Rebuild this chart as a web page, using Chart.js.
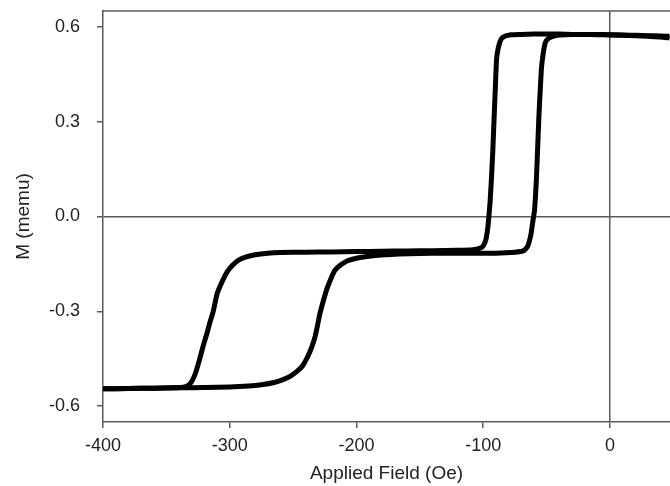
<!DOCTYPE html>
<html>
<head>
<meta charset="utf-8">
<script src="https://cdn.jsdelivr.net/npm/chart.js@4"></script>
<style>
  html, body { margin: 0; padding: 0; background: #fff; }
  #wrap { width: 670px; height: 486px; }
</style>
</head>
<body>
<div id="wrap"><canvas id="chart" width="670" height="486"></canvas></div>
<script>
'use strict';

// descending branch (coming down from positive saturation)
const downField = [47, 40, 30, 20, 10, 0, -10, -20, -30, -40, -50, -60, -70, -78, -83, -86, -88, -89.4, -90.5, -91.5, -92.5, -93.5, -94.5, -95.5, -96.5, -98, -100, -103, -108, -120, -140, -160, -180, -200, -220, -240, -260, -270, -280, -287, -293, -298, -302, -307, -310, -313, -316, -318, -321, -324, -327, -330, -333, -337, -345, -360, -380, -400];
const downM = [0.565, 0.568, 0.570, 0.572, 0.573, 0.574, 0.575, 0.576, 0.576, 0.577, 0.577, 0.577, 0.576, 0.575, 0.570, 0.560, 0.535, 0.50, 0.40, 0.30, 0.20, 0.12, 0.05, 0.0, -0.04, -0.075, -0.093, -0.101, -0.105, -0.107, -0.108, -0.109, -0.110, -0.111, -0.112, -0.113, -0.114, -0.116, -0.121, -0.128, -0.138, -0.155, -0.175, -0.215, -0.245, -0.30, -0.34, -0.37, -0.41, -0.455, -0.495, -0.522, -0.535, -0.540, -0.542, -0.543, -0.544, -0.545];

// ascending branch (going back up from negative saturation)
const upField = [-400, -380, -360, -340, -320, -300, -285, -275, -265, -258, -252, -247, -243, -240, -237, -235, -233, -231, -229, -226, -223, -220, -217, -212, -207, -200, -190, -180, -166, -150, -130, -110, -90, -75, -68, -65, -62.5, -61, -59.5, -58, -57, -56, -55, -54, -52.5, -51, -49, -45, -40, -30, -20, -10, 0, 10, 20, 30, 40, 47];
const upM = [-0.545, -0.544, -0.543, -0.542, -0.541, -0.539, -0.536, -0.532, -0.525, -0.516, -0.505, -0.49, -0.475, -0.455, -0.43, -0.41, -0.385, -0.35, -0.31, -0.265, -0.225, -0.195, -0.17, -0.152, -0.14, -0.132, -0.126, -0.122, -0.119, -0.117, -0.116, -0.116, -0.116, -0.113, -0.108, -0.095, -0.06, -0.02, 0.02, 0.12, 0.22, 0.32, 0.40, 0.47, 0.52, 0.55, 0.562, 0.570, 0.574, 0.576, 0.576, 0.576, 0.575, 0.574, 0.573, 0.572, 0.571, 0.570];

const xTicks = [-400, -300, -200, -100, 0];
const yTicks = [-0.6, -0.3, 0, 0.3, 0.6];

function toPoints(xs, ys) {
  return xs.map(function (x, i) { return { x: x, y: ys[i] }; });
}

const axisGray = '#5a5a5a';
const textColor = '#222';
const fontFamily = '"Liberation Sans", Arial, Helvetica, sans-serif';

// top frame line
const topBorder = {
  id: 'topBorder',
  afterDraw: function (chart) {
    const a = chart.chartArea;
    const ctx = chart.ctx;
    ctx.save();
    ctx.strokeStyle = axisGray;
    ctx.lineWidth = 1.5;
    ctx.beginPath();
    ctx.moveTo(a.left, a.top);
    ctx.lineTo(a.right, a.top);
    ctx.stroke();
    ctx.restore();
  }
};

function zeroLine(ctx) {
  return ctx.tick && ctx.tick.value === 0 ? axisGray : 'rgba(0,0,0,0)';
}

let chart = new Chart(document.getElementById('chart'), {
  type: 'scatter',
  data: {
    datasets: [
      {
        data: toPoints(downField, downM),
        showLine: true,
        borderColor: '#000',
        borderWidth: 5,
        pointRadius: 0,
        tension: 0.15
      },
      {
        data: toPoints(upField, upM),
        showLine: true,
        borderColor: '#000',
        borderWidth: 5,
        pointRadius: 0,
        tension: 0.15
      }
    ]
  },
  options: {
    responsive: false,
    animation: false,
    layout: { padding: { top: 11, right: 0, bottom: 0, left: 0 } },
    plugins: {
      legend: { display: false },
      tooltip: { enabled: false }
    },
    scales: {
      x: {
        type: 'linear',
        min: -400,
        max: 47.4,
        afterBuildTicks: function (scale) {
          scale.ticks = xTicks.map(function (v) { return { value: v }; });
        },
        afterFit: function (scale) {
          scale.height = 64;
          scale.paddingLeft = 0;
          scale.paddingRight = 0;
        },
        ticks: {
          color: textColor,
          font: { family: fontFamily, size: 18 },
          padding: 7,
          maxRotation: 0,
          callback: function (v) { return String(v); }
        },
        grid: {
          color: zeroLine,
          lineWidth: 1.5,
          tickColor: axisGray,
          tickLength: 6
        },
        border: { color: axisGray, width: 1.5 },
        title: {
          display: true,
          text: 'Applied Field (Oe)',
          color: textColor,
          font: { family: fontFamily, size: 19 },
          padding: { top: 0, bottom: 1 }
        }
      },
      y: {
        type: 'linear',
        min: -0.65,
        max: 0.65,
        afterBuildTicks: function (scale) {
          scale.ticks = yTicks.map(function (v) { return { value: v }; });
        },
        afterFit: function (scale) {
          scale.width = 103;
          scale.paddingTop = 0;
          scale.paddingBottom = 0;
        },
        ticks: {
          color: textColor,
          font: { family: fontFamily, size: 18 },
          padding: 17,
          callback: function (v) { return Number(v).toFixed(1); }
        },
        grid: {
          color: zeroLine,
          lineWidth: 1.5,
          tickColor: axisGray,
          tickLength: 6
        },
        border: { color: axisGray, width: 1.5 },
        title: {
          display: true,
          text: 'M (memu)',
          color: textColor,
          font: { family: fontFamily, size: 19 },
          padding: { top: 12, bottom: 0 }
        }
      }
    }
  },
  plugins: [topBorder]
});
</script>
</body>
</html>
